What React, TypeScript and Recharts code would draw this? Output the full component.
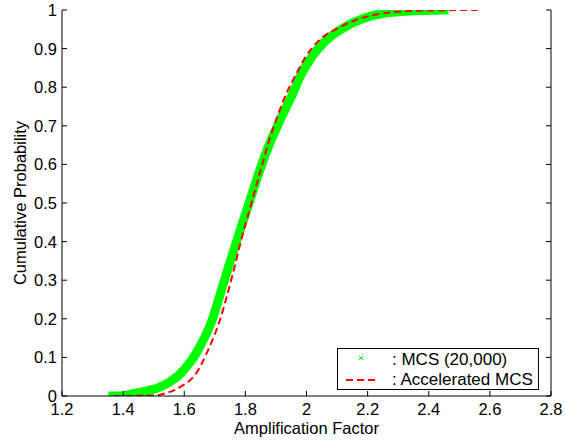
import React from 'react';
import { LineChart, Line, XAxis, YAxis, Legend, Label } from 'recharts';

const xTicks = [1.2, 1.4, 1.6, 1.8, 2, 2.2, 2.4, 2.6, 2.8];
const yTicks = [0, 0.1, 0.2, 0.3, 0.4, 0.5, 0.6, 0.7, 0.8, 0.9, 1];

const mcsX = [1.367, 1.4, 1.445, 1.52, 1.59, 1.645, 1.695, 1.72, 1.745, 1.775, 1.81, 1.845, 1.875, 1.905, 1.956, 1.982, 2.015, 2.061, 2.12, 2.19, 2.257, 2.35, 2.45];
const mcsP = [0, 0.001, 0.008, 0.023, 0.06, 0.119, 0.205, 0.27, 0.335, 0.41, 0.495, 0.58, 0.645, 0.7, 0.785, 0.832, 0.876, 0.919, 0.953, 0.979, 0.992, 0.998, 1.0];

const accX = [1.37, 1.5, 1.543, 1.586, 1.64, 1.678, 1.72, 1.74, 1.76, 1.785, 1.82, 1.85, 1.875, 1.905, 1.935, 1.965, 1.995, 2.038, 2.103, 2.18, 2.257, 2.4, 2.56];
const accP = [0, 0.001, 0.008, 0.023, 0.06, 0.119, 0.205, 0.26, 0.32, 0.4, 0.5, 0.585, 0.655, 0.725, 0.785, 0.832, 0.876, 0.919, 0.953, 0.979, 0.992, 0.999, 1.0];

const seriesNames = [': MCS (20,000)', ': Accelerated MCS'];
const xLabel = 'Amplification Factor';
const yLabel = 'Cumulative Probability';

const mcsData = mcsX.map((x, i) => ({ x, p: mcsP[i] }));
const accData = accX.map((x, i) => ({ x, p: accP[i] }));

const FONT = '"Liberation Sans", Arial, Helvetica, sans-serif';
const FS = 16.5;
const LFS = 17;

const BottomTick = (props: any) => {
  const { x, y, payload } = props;
  return (
    <g>
      <line x1={x} y1={y} x2={x} y2={y - 5} stroke="#000" strokeWidth={1} />
      <text x={x} y={y + 19} textAnchor="middle" fontSize={FS} fontFamily={FONT} fill="#000">
        {String(payload.value)}
      </text>
    </g>
  );
};

const LeftTick = (props: any) => {
  const { x, y, payload } = props;
  return (
    <g>
      <line x1={x} y1={y} x2={x + 5} y2={y} stroke="#000" strokeWidth={1} />
      <text x={x - 5} y={y + 6} textAnchor="end" fontSize={FS} fontFamily={FONT} fill="#000">
        {String(payload.value)}
      </text>
    </g>
  );
};

const TopTick = (props: any) => {
  const { x, y } = props;
  return <line x1={x} y1={y} x2={x} y2={y + 5} stroke="#000" strokeWidth={1} />;
};

const RightTick = (props: any) => {
  const { x, y } = props;
  return <line x1={x} y1={y} x2={x - 5} y2={y} stroke="#000" strokeWidth={1} />;
};

const LegendBox = () => (
  <svg width={202} height={42} style={{ display: 'block' }}>
    <rect x={0.5} y={0.5} width={201} height={41} fill="#fff" stroke="#000" strokeWidth={1} />
    <g stroke="#00ff00" strokeWidth={1}>
      <line x1={22} y1={8} x2={26} y2={12} />
      <line x1={22} y1={12} x2={26} y2={8} />
    </g>
    <line x1={9} y1={32} x2={38} y2={32} stroke="#ff0000" strokeWidth={2} strokeDasharray="7 4" />
    <text x={55} y={17} fontSize={LFS} fontFamily={FONT} fill="#000">{seriesNames[0]}</text>
    <text x={55} y={37} fontSize={LFS} fontFamily={FONT} fill="#000">{seriesNames[1]}</text>
  </svg>
);

export default function App() {
  return (
    <div style={{ position: 'absolute', left: 0, top: 0, background: '#fff' }}>
      <LineChart width={565} height={440} margin={{ top: 10, right: 0, bottom: 0, left: 0 }}>
        <XAxis
          dataKey="x"
          type="number"
          domain={[1.2, 2.8]}
          ticks={xTicks}
          allowDataOverflow
          height={44}
          tickSize={0}
          tickMargin={0}
          tickLine={false}
          axisLine={{ stroke: '#000', strokeWidth: 1 }}
          tick={<BottomTick />}
          interval={0}
        >
          <Label
            content={(p: any) => {
              const vb = p.viewBox;
              return (
                <text x={vb.x + vb.width / 2} y={vb.y + 37.5} textAnchor="middle" fontSize={FS} fontFamily={FONT} fill="#000">
                  {xLabel}
                </text>
              );
            }}
          />
        </XAxis>
        <XAxis
          xAxisId="top"
          orientation="top"
          dataKey="x"
          type="number"
          domain={[1.2, 2.8]}
          ticks={xTicks}
          allowDataOverflow
          height={0}
          tickSize={0}
          tickMargin={0}
          tickLine={false}
          axisLine={{ stroke: '#000', strokeWidth: 1 }}
          tick={<TopTick />}
          interval={0}
        />
        <YAxis
          dataKey="p"
          type="number"
          domain={[0, 1]}
          ticks={yTicks}
          allowDataOverflow
          width={62}
          tickSize={0}
          tickMargin={0}
          tickLine={false}
          axisLine={{ stroke: '#000', strokeWidth: 1 }}
          tick={<LeftTick />}
          interval={0}
        >
          <Label
            content={(p: any) => {
              const vb = p.viewBox;
              const cx = 26;
              const cy = vb.y + vb.height / 2;
              return (
                <text x={cx} y={cy} transform={`rotate(-90, ${cx}, ${cy})`} textAnchor="middle" fontSize={FS} fontFamily={FONT} fill="#000">
                  {yLabel}
                </text>
              );
            }}
          />
        </YAxis>
        <YAxis
          yAxisId="right"
          orientation="right"
          dataKey="p"
          type="number"
          domain={[0, 1]}
          ticks={yTicks}
          allowDataOverflow
          width={14}
          tickSize={0}
          tickMargin={0}
          tickLine={false}
          axisLine={{ stroke: '#000', strokeWidth: 1 }}
          tick={<RightTick />}
          interval={0}
        />
        <Line
          data={mcsData}
          dataKey="p"
          type="monotone"
          stroke="#00ff00"
          strokeWidth={9}
          strokeLinecap="square"
          strokeLinejoin="round"
          dot={false}
          activeDot={false}
          isAnimationActive={false}
          legendType="none"
        />
        <Line
          data={accData}
          dataKey="p"
          type="monotone"
          stroke="#ff0000"
          strokeWidth={2}
          strokeDasharray="7 4"
          dot={false}
          activeDot={false}
          isAnimationActive={false}
          legendType="none"
        />
        <Legend
          layout="horizontal"
          verticalAlign="middle"
          align="center"
          content={() => <LegendBox />}
          wrapperStyle={{ position: 'absolute', left: 337, top: 348, width: 202, height: 42 }}
        />
      </LineChart>
    </div>
  );
}
